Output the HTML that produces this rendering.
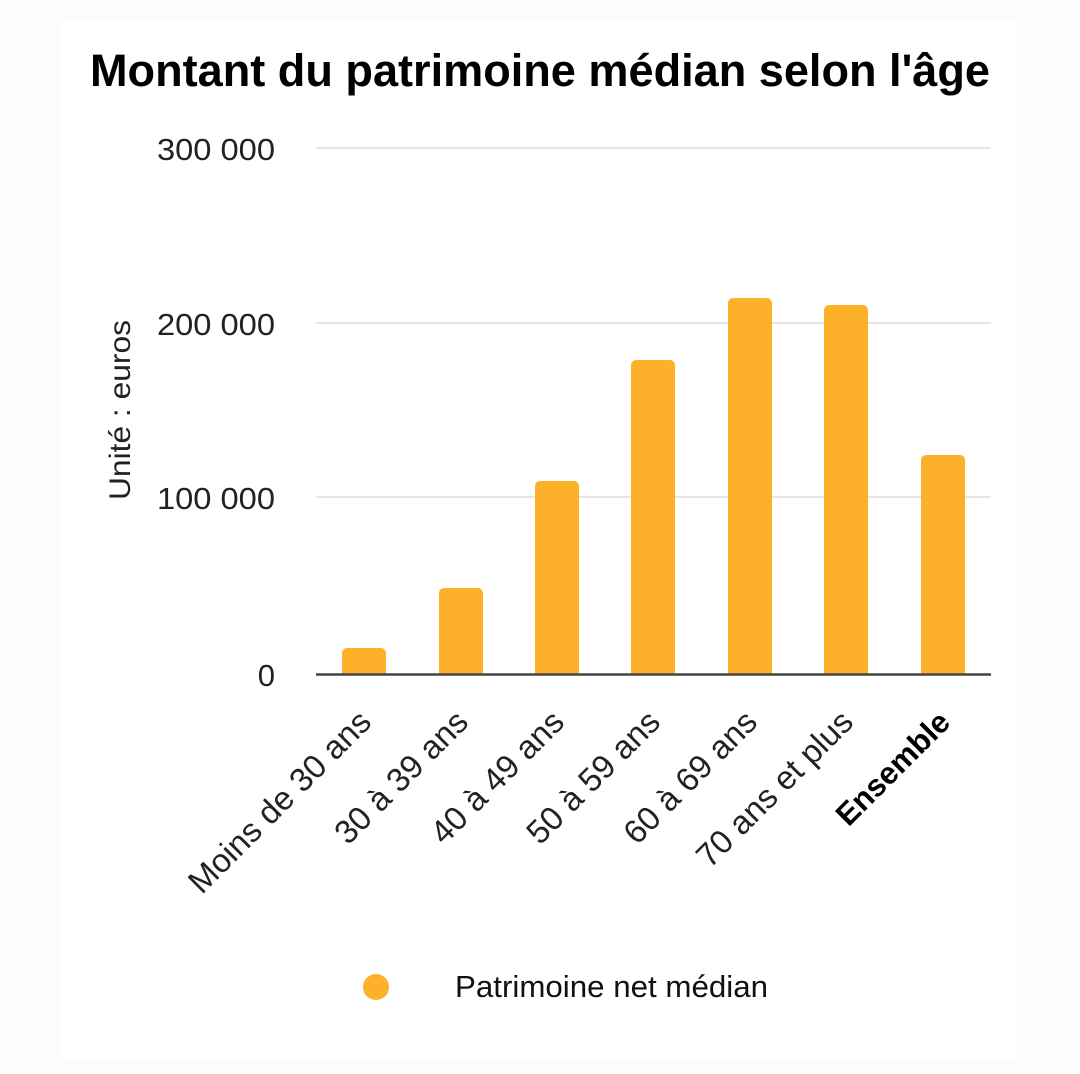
<!DOCTYPE html>
<html><head><meta charset="utf-8"><style>
html,body{margin:0;padding:0;background:#fcfcfc;}
svg{display:block;font-family:"Liberation Sans",sans-serif;}
</style></head><body>
<svg width="1080" height="1074" viewBox="0 0 1080 1074" xmlns="http://www.w3.org/2000/svg">
<rect x="0" y="0" width="1080" height="1074" fill="#fcfcfc"/>
<rect x="62" y="20" width="955" height="1041" fill="#ffffff"/>
<text x="540" y="86" text-anchor="middle" font-size="45" font-weight="bold" fill="#000" textLength="900" lengthAdjust="spacingAndGlyphs">Montant du patrimoine médian selon l'âge</text>
<g stroke="#e6e6e6" stroke-width="2">
<line x1="316" y1="148" x2="991" y2="148"/>
<line x1="316" y1="323" x2="991" y2="323"/>
<line x1="316" y1="497" x2="991" y2="497"/>
</g>
<g font-size="31" fill="#222" text-anchor="end">
<text x="275" y="160" textLength="118" lengthAdjust="spacingAndGlyphs">300 000</text>
<text x="275" y="335" textLength="118" lengthAdjust="spacingAndGlyphs">200 000</text>
<text x="275" y="509" textLength="118" lengthAdjust="spacingAndGlyphs">100 000</text>
<text x="275" y="686">0</text>
</g>
<text transform="translate(130,410) rotate(-90)" text-anchor="middle" font-size="30" fill="#222" textLength="180" lengthAdjust="spacingAndGlyphs">Unité : euros</text>
<g fill="#fdb12a">
<path d="M342 674V653a5 5 0 0 1 5-5h34a5 5 0 0 1 5 5V674Z"/>
<path d="M439 674V593a5 5 0 0 1 5-5h34a5 5 0 0 1 5 5V674Z"/>
<path d="M535 674V486a5 5 0 0 1 5-5h34a5 5 0 0 1 5 5V674Z"/>
<path d="M631 674V365a5 5 0 0 1 5-5h34a5 5 0 0 1 5 5V674Z"/>
<path d="M728 674V303a5 5 0 0 1 5-5h34a5 5 0 0 1 5 5V674Z"/>
<path d="M824 674V310a5 5 0 0 1 5-5h34a5 5 0 0 1 5 5V674Z"/>
<path d="M921 674V460a5 5 0 0 1 5-5h34a5 5 0 0 1 5 5V674Z"/>
</g>
<line x1="316" y1="674.5" x2="991" y2="674.5" stroke="#444" stroke-width="2.5"/>
<g font-size="33" fill="#222" text-anchor="end">
<text transform="translate(373,724) rotate(-45)">Moins de 30 ans</text>
<text transform="translate(470,724) rotate(-45)">30 à 39 ans</text>
<text transform="translate(566,724) rotate(-45)">40 à 49 ans</text>
<text transform="translate(662,724) rotate(-45)">50 à 59 ans</text>
<text transform="translate(759,724) rotate(-45)">60 à 69 ans</text>
<text transform="translate(855,724) rotate(-45)">70 ans et plus</text>
<text transform="translate(952,724) rotate(-45)" font-size="31" font-weight="bold" fill="#000">Ensemble</text>
</g>
<circle cx="376" cy="987" r="13" fill="#fdb12a"/>
<text x="455" y="997" font-size="31" fill="#111" textLength="313" lengthAdjust="spacingAndGlyphs">Patrimoine net médian</text>
</svg>
</body></html>
